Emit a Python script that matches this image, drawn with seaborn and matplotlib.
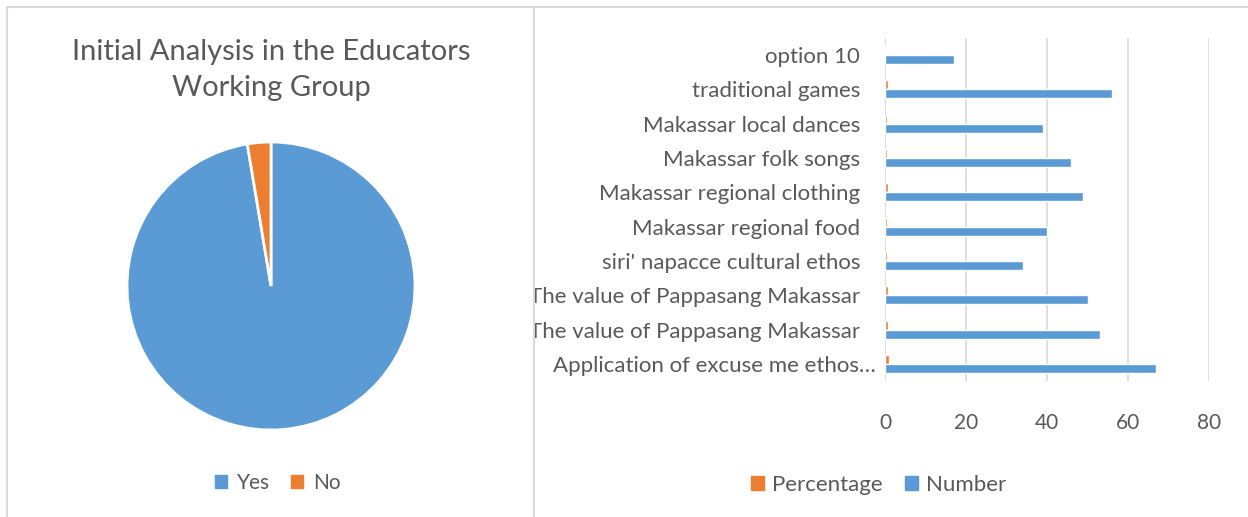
import matplotlib
matplotlib.use("Agg")
import matplotlib.pyplot as plt
import seaborn as sns
import pandas as pd
from matplotlib.patches import Patch
from matplotlib.lines import Line2D
from matplotlib.transforms import Bbox, TransformedBbox, ScaledTranslation

# pie data
pie_labels = ["Yes", "No"]
pie_values = [37, 1]

# bar data, listed top to bottom as shown
items = [
    "option 10",
    "traditional games",
    "Makassar local dances",
    "Makassar folk songs",
    "Makassar regional clothing",
    "Makassar regional food",
    "siri' napacce cultural ethos",
    "The value of Pappasang Makassar",
    "The value of Pappasang Makassar",
    "Application of excuse me ethos\u2026",
]
number = [17, 56, 39, 46, 49, 40, 34, 50, 53, 67]
percentage = [0.23, 0.75, 0.52, 0.61, 0.65, 0.53, 0.45, 0.67, 0.71, 0.89]
series_names = ["Percentage", "Number"]
x_ticks = [0, 20, 40, 60, 80]

BLUE = "#5B9BD5"
ORANGE = "#ED7D31"
TXT = "#595959"
LINE = "#D9D9D9"

W, H = 1248, 517

sns.set_theme(style="white")
plt.rcParams["font.family"] = ["Lato", "DejaVu Sans"]

fig = plt.figure(figsize=(W / 100, H / 100), dpi=100)

# panel borders
def fig_line(xs, ys):
    fig.add_artist(Line2D([x / W for x in xs], [1 - y / H for y in ys],
                          transform=fig.transFigure, color=LINE, lw=1.5))

fig_line([7, W], [7, 7])
fig_line([7, 7], [7, H])
fig_line([534, 534], [7, H])

# ---- left: pie ----
ax_pie = fig.add_axes([(271 - 144) / W, 1 - (286 + 144) / H, 288 / W, 288 / H])
ax_pie.pie(pie_values, colors=[BLUE, ORANGE], startangle=90, counterclock=False,
           wedgeprops=dict(edgecolor="white", linewidth=2))
ax_pie.set_xlim(-1, 1)
ax_pie.set_ylim(-1, 1)

fig.text(271 / W, 1 - 70 / H, "Initial Analysis in the Educators\nWorking Group",
         ha="center", va="center", fontsize=21, color=TXT, linespacing=1.5)

fig.legend(handles=[Patch(color=BLUE, label=pie_labels[0]),
                    Patch(color=ORANGE, label=pie_labels[1])],
           loc="center", bbox_to_anchor=(278 / W, 1 - 483 / H), ncol=2, frameon=False,
           fontsize=15, handlelength=0.55, handleheight=0.55, handletextpad=0.5,
           columnspacing=1.0, labelcolor=TXT)

# ---- right: bars ----
df = pd.DataFrame({
    "row": list(range(len(items))) * 2,
    "series": [series_names[0]] * len(items) + [series_names[1]] * len(items),
    "value": percentage + number,
})

ax_bar = fig.add_axes([885 / W, 1 - 381 / H, 324 / W, 343 / H])
sns.barplot(data=df, x="value", y="row", hue="series", hue_order=series_names,
            orient="h", palette={"Percentage": ORANGE, "Number": BLUE},
            width=0.525, saturation=1, gap=0, legend=False, ax=ax_bar)
ax_bar.set_xlim(0, 80)
ax_bar.set_ylim(len(items) - 0.5, -0.5)
ax_bar.set_xticks(x_ticks)
ax_bar.set_yticks(range(len(items)))
ax_bar.set_yticklabels(items)
ax_bar.set_xlabel("")
ax_bar.set_ylabel("")
for s in ax_bar.spines.values():
    s.set_visible(False)
ax_bar.grid(axis="x", color=LINE, lw=1.2)
ax_bar.set_axisbelow(True)
ax_bar.tick_params(axis="x", length=0, pad=23, labelsize=15, labelcolor=TXT)
ax_bar.tick_params(axis="y", length=0, pad=18, labelsize=16, labelcolor=TXT)

clip = TransformedBbox(Bbox.from_extents(535 / W, 0, 1, 1), fig.transFigure)
labels = ax_bar.get_yticklabels()
for lbl in labels:
    lbl.set_clip_on(True)
    lbl.set_clip_box(clip)
# the truncated label sits a bit further right
labels[-1].set_transform(labels[-1].get_transform()
                         + ScaledTranslation(0.16, 0, fig.dpi_scale_trans))

fig.legend(handles=[Patch(color=ORANGE, label=series_names[0]),
                    Patch(color=BLUE, label=series_names[1])],
           loc="center", bbox_to_anchor=(879 / W, 1 - 485 / H), ncol=2, frameon=False,
           fontsize=16, handlelength=0.55, handleheight=0.55, handletextpad=0.4,
           columnspacing=1.0, labelcolor=TXT)

fig.savefig("out.png", dpi=100)
